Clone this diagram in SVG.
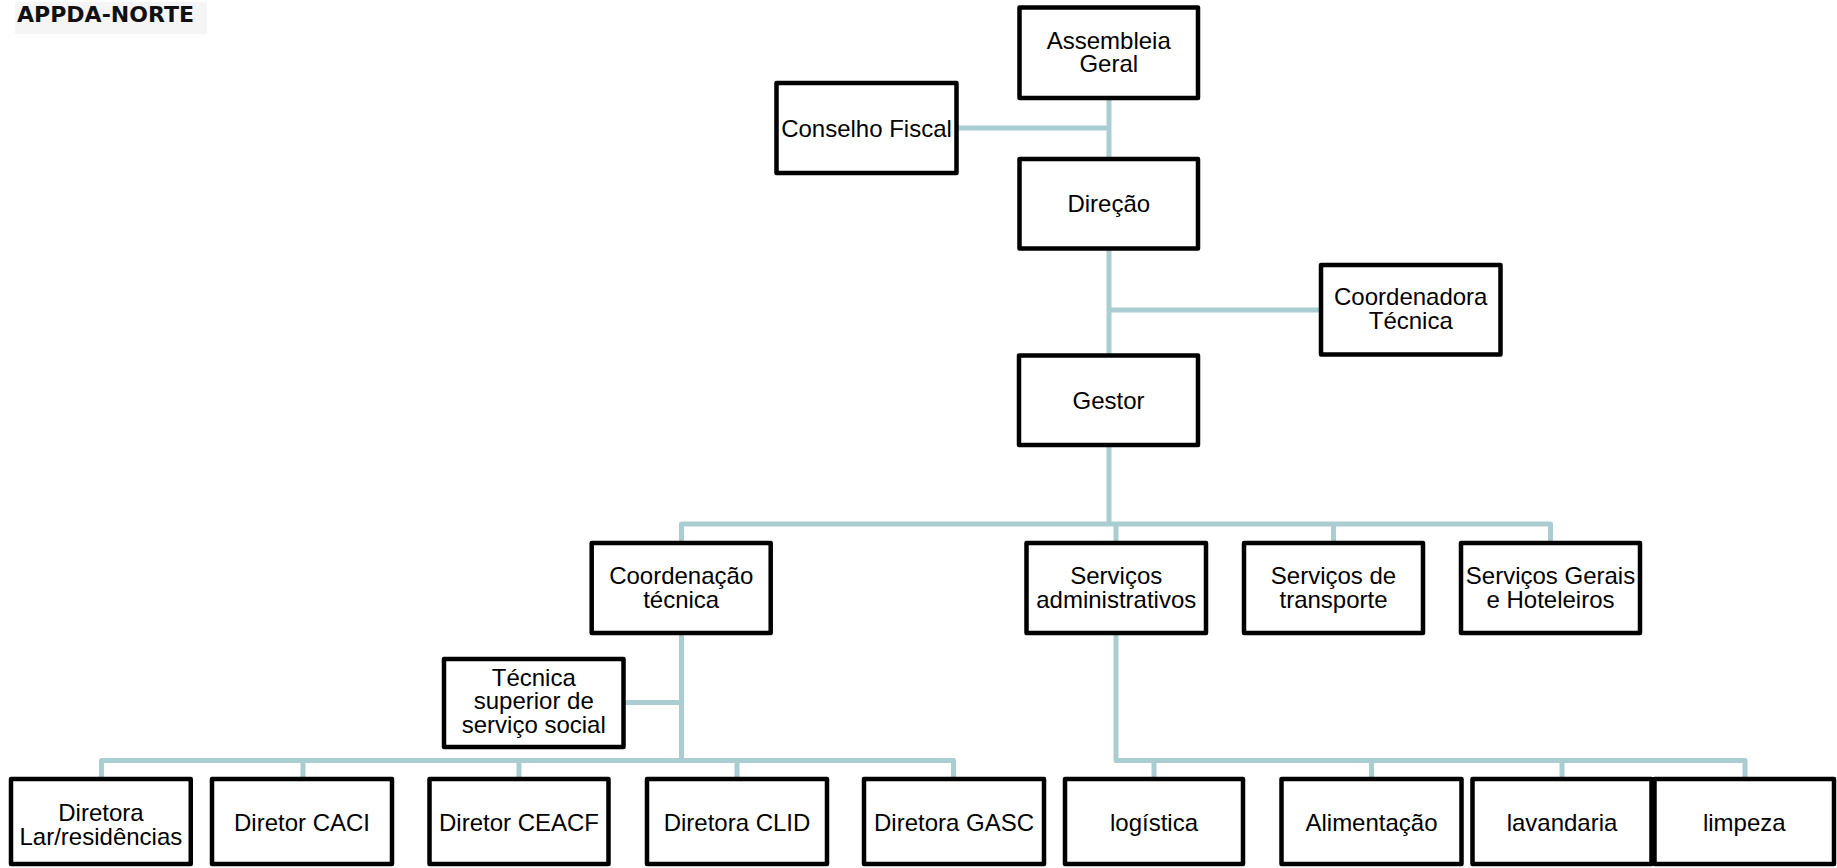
<svg xmlns="http://www.w3.org/2000/svg" width="1837" height="868" viewBox="0 0 1837 868">
<style>
.box{fill:#ffffff;stroke:#000000;stroke-width:4.5;stroke-linejoin:round}
.lbl{font-family:"Liberation Sans",Arial,sans-serif;font-size:24px;fill:#000000;text-anchor:middle}
.con{fill:none;stroke:#a9cdd0;stroke-width:5;stroke-linejoin:round;stroke-linecap:butt}
.title{font-family:"DejaVu Sans","Liberation Sans",sans-serif;font-weight:bold;font-size:21px;fill:#111111}
</style>
<rect x="15" y="2" width="192" height="32" fill="#f5f5f5"/>
<text class="title" x="17" y="22" textLength="177" lengthAdjust="spacingAndGlyphs">APPDA-NORTE</text>

<g id="connectors">
<path class="con" d="M1109,98 V355.5"/>
<path class="con" d="M956.5,128 H1109"/>
<path class="con" d="M1109,310 H1321"/>
<path class="con" d="M1109,445 V524"/>
<path class="con" d="M681.5,543 V524 H1550.5 V543"/>
<path class="con" d="M1116,524 V543"/>
<path class="con" d="M1333.5,524 V543"/>
<path class="con" d="M681.5,633 V760.5"/>
<path class="con" d="M623.5,702.5 H681.5"/>
<path class="con" d="M101.5,779 V760.5 H953.5 V779"/>
<path class="con" d="M303,760.5 V779"/>
<path class="con" d="M519,760.5 V779"/>
<path class="con" d="M737,760.5 V779"/>
<path class="con" d="M1116,633 V760.5 H1745 V779"/>
<path class="con" d="M1154,760.5 V779"/>
<path class="con" d="M1371.5,760.5 V779"/>
<path class="con" d="M1562,760.5 V779"/>
</g>

<g id="assembleia"><rect class="box" x="1019.5" y="7.5" width="178.5" height="90.5"/><text class="lbl" x="1108.75" y="48.5">Assembleia</text><text class="lbl" x="1108.75" y="72">Geral</text></g>
<g id="conselho"><rect class="box" x="776.5" y="83" width="180" height="90"/><text class="lbl" x="866.5" y="136.5">Conselho Fiscal</text></g>
<g id="direcao"><rect class="box" x="1019.5" y="159" width="178.5" height="89.5"/><text class="lbl" x="1108.75" y="211.5">Direção</text></g>
<g id="coordenadora"><rect class="box" x="1321" y="265" width="179.5" height="89.5"/><text class="lbl" x="1410.75" y="305">Coordenadora</text><text class="lbl" x="1410.75" y="329">Técnica</text></g>
<g id="gestor"><rect class="box" x="1019" y="355.5" width="179" height="89.5"/><text class="lbl" x="1108.5" y="408.5">Gestor</text></g>

<g id="coord-tecnica"><rect class="box" x="591.7" y="543" width="179" height="90"/><text class="lbl" x="681.2" y="584">Coordenação</text><text class="lbl" x="681.2" y="607.5">técnica</text></g>
<g id="serv-admin"><rect class="box" x="1026.5" y="543" width="179.5" height="90"/><text class="lbl" x="1116.25" y="584">Serviços</text><text class="lbl" x="1116.25" y="607.5">administrativos</text></g>
<g id="serv-transporte"><rect class="box" x="1244" y="543" width="179" height="90"/><text class="lbl" x="1333.5" y="584">Serviços de</text><text class="lbl" x="1333.5" y="607.5">transporte</text></g>
<g id="serv-gerais"><rect class="box" x="1461" y="543" width="179" height="90"/><text class="lbl" x="1550.5" y="584">Serviços Gerais</text><text class="lbl" x="1550.5" y="607.5">e Hoteleiros</text></g>

<g id="tecnica-social"><rect class="box" x="444" y="659" width="179.5" height="88"/><text class="lbl" x="533.75" y="685.5">Técnica</text><text class="lbl" x="533.75" y="709">superior de</text><text class="lbl" x="533.75" y="732.5">serviço social</text></g>

<g id="diretora-lar"><rect class="box" x="11" y="779" width="179.75" height="85"/><text class="lbl" x="100.9" y="821">Diretora</text><text class="lbl" x="100.9" y="844.5">Lar/residências</text></g>
<g id="diretor-caci"><rect class="box" x="212" y="779" width="180" height="85"/><text class="lbl" x="302" y="831">Diretor CACI</text></g>
<g id="diretor-ceacf"><rect class="box" x="429.5" y="779" width="179" height="85"/><text class="lbl" x="519" y="831">Diretor CEACF</text></g>
<g id="diretora-clid"><rect class="box" x="647" y="779" width="180" height="85"/><text class="lbl" x="737" y="831">Diretora CLID</text></g>
<g id="diretora-gasc"><rect class="box" x="864" y="779" width="180" height="85"/><text class="lbl" x="954" y="831">Diretora GASC</text></g>
<g id="logistica"><rect class="box" x="1065" y="779" width="178" height="85"/><text class="lbl" x="1154" y="831">logística</text></g>
<g id="alimentacao"><rect class="box" x="1281.5" y="779" width="180" height="85"/><text class="lbl" x="1371.5" y="831">Alimentação</text></g>
<g id="lavandaria"><rect class="box" x="1472.5" y="779" width="179" height="85"/><text class="lbl" x="1562" y="831">lavandaria</text></g>
<g id="limpeza"><rect class="box" x="1654.5" y="779" width="179.5" height="85"/><text class="lbl" x="1744.25" y="831">limpeza</text></g>
</svg>
